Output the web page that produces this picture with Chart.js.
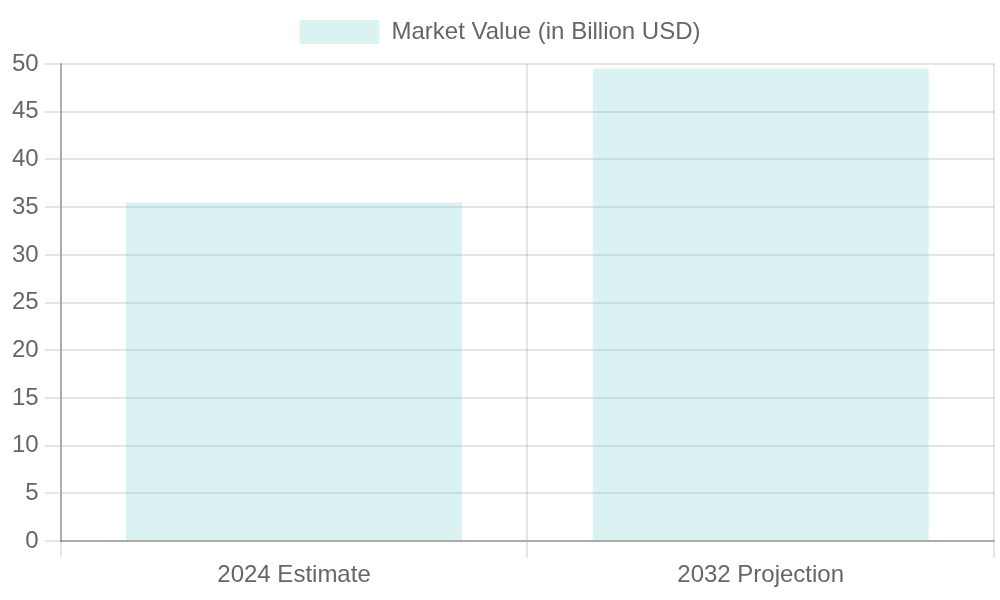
<!DOCTYPE html>
<html><head><meta charset="utf-8">
<script src="https://cdn.jsdelivr.net/npm/chart.js@4"></script>
<style>html,body{margin:0;padding:0;background:#fff}#outer{width:1000px;height:600px;position:relative}#wrap{position:absolute;left:0;top:0;width:500px;height:300px;transform:scale(2);transform-origin:0 0}canvas{display:block}</style>
</head><body><div id="outer"><div id="wrap"><canvas id="c" width="500" height="300" style="width:500px;height:300px"></canvas></div></div>
<script>
const categories = ["2024 Estimate", "2032 Projection"];
const marketValues = [35.5, 49.5];
const seriesLabel = "Market Value (in Billion USD)";

Chart.defaults.font.family = "'Liberation Sans', Arial, sans-serif";
Chart.defaults.color = "#666";
new Chart(document.getElementById('c'), {
  type: 'bar',
  data: { labels: categories, datasets: [{ label: seriesLabel, data: marketValues,
    backgroundColor: 'rgba(75,192,192,0.2)', borderWidth: 0 }] },
  options: {
    responsive: false, devicePixelRatio: 2, animation: false,
    layout: { padding: { left: 3, right: 3, bottom: 3 } },
    scales: {
      x: { ticks: { padding: 2 }, border: { color: 'rgba(0,0,0,0.25)' } },
      y: { beginAtZero: true, max: 50, ticks: { stepSize: 5 }, border: { color: 'rgba(0,0,0,0.25)' } }
    }
  }
});
</script></body></html>
